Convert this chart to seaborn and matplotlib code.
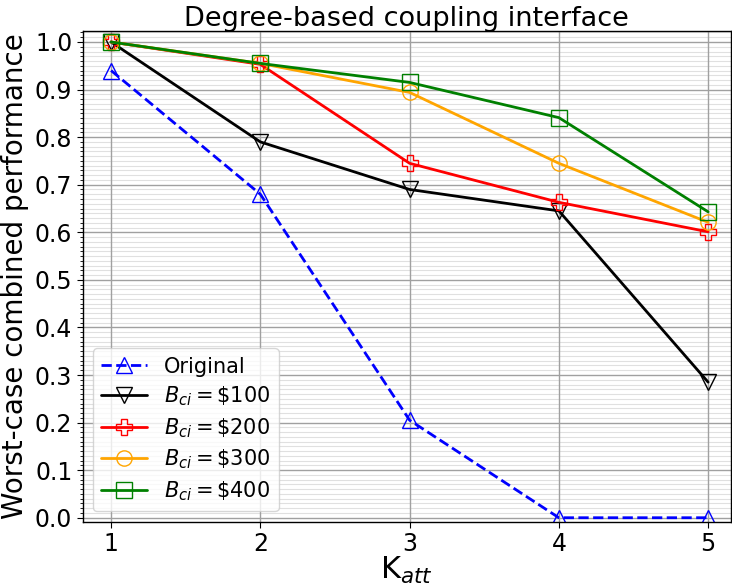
import numpy as np
import matplotlib
matplotlib.use("Agg")
import matplotlib.pyplot as plt
import pandas as pd
import seaborn as sns
from matplotlib.ticker import MultipleLocator

k_att = [1, 2, 3, 4, 5]
original = [0.94, 0.68, 0.205, 0.0, 0.0]
b100 = [1.0, 0.79, 0.69, 0.645, 0.285]
b200 = [1.0, 0.953, 0.745, 0.663, 0.601]
b300 = [1.0, 0.955, 0.894, 0.745, 0.621]
b400 = [1.0, 0.955, 0.915, 0.841, 0.643]

labels = ["Original", r"$B_{ci} = \$100$", r"$B_{ci} = \$200$",
          r"$B_{ci} = \$300$", r"$B_{ci} = \$400$"]
series = [original, b100, b200, b300, b400]
colors = ["blue", "black", "red", "orange", "green"]
markers = ["^", "v", "P", "o", "s"]
styles = ["--", "-", "-", "-", "-"]

sns.set_style("white")
plt.rcParams['font.family'] = ['DejaVu Sans']
plt.rcParams['text.color'] = 'black'
plt.rcParams['axes.labelcolor'] = 'black'
plt.rcParams['xtick.color'] = 'black'
plt.rcParams['ytick.color'] = 'black'

fig, ax = plt.subplots(figsize=(7.32, 5.86), dpi=100)

for vals, lab, c, m, ls in zip(series, labels, colors, markers, styles):
    df = pd.DataFrame({"k": k_att, "v": vals})
    sns.lineplot(data=df, x="k", y="v", ax=ax, color=c, marker=m, linestyle=ls,
                 linewidth=2, markersize=11, markerfacecolor="none",
                 markeredgecolor=c, markeredgewidth=1.0, label=lab)

ax.set_xlim(0.81, 5.15)
ax.set_ylim(-0.008, 1.023)
ax.set_xticks(k_att)
ax.yaxis.set_major_locator(MultipleLocator(0.1))
ax.yaxis.set_minor_locator(MultipleLocator(0.01))
ax.grid(which="major", color="#a0a0a0", linewidth=1, linestyle="-")
ax.grid(which="minor", axis="y", color="#e0e0e0", linewidth=0.8, linestyle="-")
ax.set_axisbelow(True)
# vertical grid on top of the light minor lines
ax.xaxis.set_zorder(0.7)
ax.tick_params(axis="both", which="major", labelsize=17, length=4, direction="out", left=True, bottom=True)
ax.tick_params(axis="y", which="minor", length=2, left=True)
for s in ax.spines.values():
    s.set_color("black")
    s.set_linewidth(1)

ax.set_title("Degree-based coupling interface", fontsize=19.5, pad=4)
ax.set_xlabel("K$_{att}$", fontsize=22, labelpad=-1)
ax.set_ylabel("Worst-case combined performance", fontsize=20)
ax.legend(loc="lower left", fontsize=15, handlelength=2.2, borderaxespad=0.5,
          labelspacing=0.38)

plt.subplots_adjust(left=0.113, right=0.998, top=0.947, bottom=0.11)
fig.savefig("out.png", dpi=100)
